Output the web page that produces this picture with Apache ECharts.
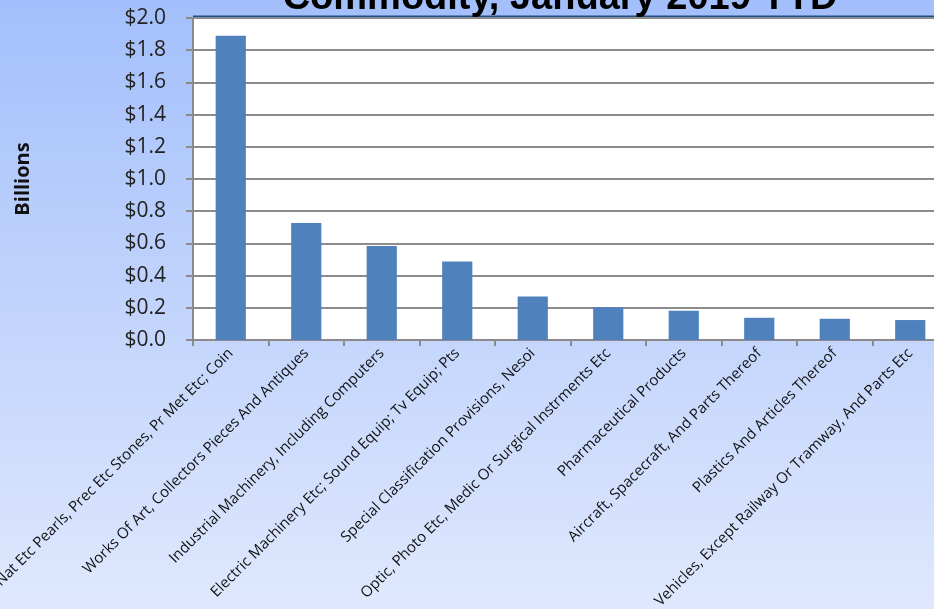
<!DOCTYPE html>
<html>
<head>
<meta charset="utf-8">
<script src="https://cdn.jsdelivr.net/npm/echarts@6/dist/echarts.min.js"></script>
<style>
html, body { margin: 0; padding: 0; overflow: hidden; }
#chart { position: absolute; left: 0; top: 0; width: 934px; height: 609px; }
</style>
</head>
<body>
<div id="chart"></div>
<script>
var commodities = [
    'Nat Etc Pearls, Prec Etc Stones, Pr Met Etc; Coin',
    'Works Of Art, Collectors Pieces And Antiques',
    'Industrial Machinery, Including Computers',
    'Electric Machinery Etc; Sound Equip; Tv Equip; Pts',
    'Special Classification Provisions, Nesoi',
    'Optic, Photo Etc, Medic Or Surgical Instrments Etc',
    'Pharmaceutical Products',
    'Aircraft, Spacecraft, And Parts Thereof',
    'Plastics And Articles Thereof',
    'Vehicles, Except Railway Or Tramway, And Parts Etc'
];
var billions = [1.89, 0.727, 0.584, 0.488, 0.27, 0.203, 0.182, 0.138, 0.132, 0.124];
var yTicks = [0, 0.2, 0.4, 0.6, 0.8, 1.0, 1.2, 1.4, 1.6, 1.8, 2.0];

var myChart = echarts.init(document.getElementById('chart'));

myChart.setOption({
    animation: false,
    backgroundColor: new echarts.graphic.LinearGradient(0, 0, 0, 1, [
        {offset: 0, color: '#a3bffb'},
        {offset: 1, color: '#dfe8fd'}
    ]),
    title: {
        text: 'Commodity, January 2019 YTD',
        left: 555,
        top: -25,
        textAlign: 'center',
        textStyle: {fontFamily: 'Liberation Sans', fontWeight: 'bold', fontSize: 38, color: '#000'}
    },
    grid: {
        left: 193, top: 18, right: -14, bottom: 269,
        outerBoundsMode: 'none',
        show: true, backgroundColor: '#fff', borderWidth: 0
    },
    xAxis: {
        type: 'category',
        data: commodities,
        axisLine: {lineStyle: {color: '#8a8a8a', width: 2}},
        axisTick: {show: true, length: 6, alignWithLabel: false, lineStyle: {color: '#8a8a8a', width: 2}},
        axisLabel: {
            rotate: 45, interval: 0, margin: 11,
            fontFamily: 'Open Sans', fontSize: 15, color: '#111'
        }
    },
    yAxis: {
        type: 'value',
        min: yTicks[0],
        max: yTicks[yTicks.length - 1],
        interval: 0.2,
        name: 'Billions',
        nameLocation: 'middle',
        nameGap: 160,
        nameTextStyle: {fontFamily: 'Open Sans', fontWeight: 'bold', fontSize: 20, color: '#111'},
        axisLine: {show: true, lineStyle: {color: '#8a8a8a', width: 2}},
        axisTick: {show: true, length: 7, lineStyle: {color: '#8a8a8a', width: 2}},
        splitLine: {lineStyle: {color: '#8c8c8c', width: 2}},
        axisLabel: {
            margin: 27,
            fontFamily: 'Open Sans', fontSize: 21, color: '#222',
            formatter: function (v) { return '$' + v.toFixed(1); }
        }
    },
    series: [{
        type: 'bar',
        data: billions,
        barWidth: '40%',
        itemStyle: {color: '#4f81bd'}
    }],
    graphic: [{
        type: 'line',
        shape: {x1: 193, y1: 17, x2: 934, y2: 17},
        style: {stroke: '#1f4e8c', lineWidth: 3}
    }]
});

window.onresize = function(){
    myChart.resize();
};
</script>
</body>
</html>
